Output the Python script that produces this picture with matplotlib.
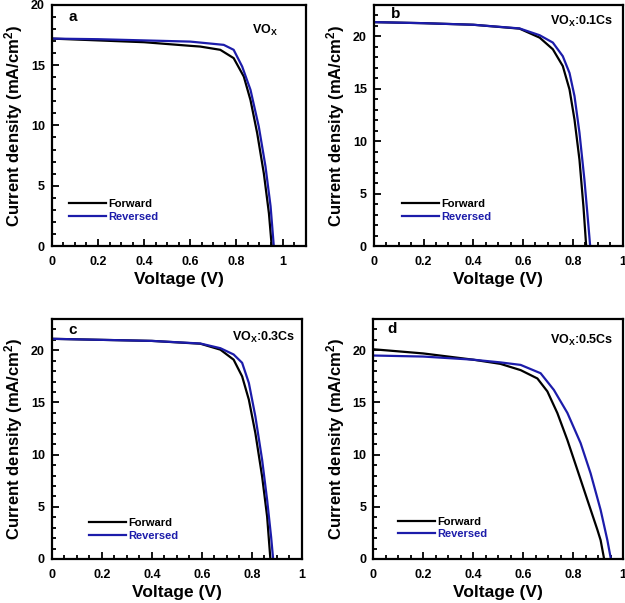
import matplotlib
matplotlib.use("Agg")
import matplotlib.pyplot as plt
from matplotlib.ticker import MultipleLocator, FuncFormatter

plt.rcParams['font.family'] = ['Liberation Sans', 'DejaVu Sans']
plt.rcParams['font.weight'] = 'bold'
plt.rcParams['mathtext.fontset'] = 'custom'
plt.rcParams['mathtext.rm'] = 'Liberation Sans:bold'
plt.rcParams['mathtext.bf'] = 'Liberation Sans:bold'
plt.rcParams['mathtext.it'] = 'Liberation Sans:bold'
plt.rcParams['mathtext.default'] = 'bf'

BLUE = '#1c1caa'

# ---- data (voltage V, current density mA/cm2) ----
a_fwd_v = [0, 0.2, 0.4, 0.6, 0.643, 0.73, 0.788, 0.832, 0.861, 0.89, 0.919, 0.941, 0.953]
a_fwd_j = [17.2, 17.05, 16.9, 16.6, 16.54, 16.27, 15.58, 14.05, 12.1, 9.36, 6.0, 2.7, 0]
a_rev_v = [0, 0.2, 0.4, 0.6, 0.643, 0.745, 0.788, 0.825, 0.861, 0.897, 0.926, 0.948, 0.962]
a_rev_j = [17.2, 17.15, 17.05, 16.95, 16.87, 16.68, 16.27, 14.88, 12.95, 9.9, 6.6, 3.3, 0]

b_fwd_v = [0, 0.2, 0.4, 0.586, 0.667, 0.72, 0.76, 0.787, 0.807, 0.827, 0.843, 0.854]
b_fwd_j = [21.35, 21.25, 21.1, 20.73, 19.87, 18.76, 17.16, 14.93, 12.06, 8.23, 3.76, 0]
b_rev_v = [0, 0.2, 0.4, 0.586, 0.667, 0.72, 0.76, 0.787, 0.807, 0.827, 0.847, 0.861, 0.87]
b_rev_j = [21.35, 21.25, 21.1, 20.75, 20.1, 19.4, 18.1, 16.5, 14.3, 10.8, 6.3, 2.5, 0]

c_fwd_v = [0, 0.2, 0.4, 0.594, 0.674, 0.727, 0.761, 0.788, 0.814, 0.841, 0.861, 0.874]
c_fwd_j = [21.1, 21.0, 20.9, 20.63, 20.06, 19.1, 17.5, 15.26, 12.06, 7.9, 4.06, 0]
c_rev_v = [0, 0.2, 0.4, 0.594, 0.674, 0.727, 0.761, 0.788, 0.814, 0.841, 0.861, 0.877, 0.885]
c_rev_j = [21.1, 21.0, 20.9, 20.65, 20.2, 19.6, 18.8, 16.86, 13.66, 9.5, 5.66, 2.1, 0]

d_fwd_v = [0, 0.1, 0.2, 0.3, 0.4, 0.509, 0.59, 0.657, 0.697, 0.737, 0.777, 0.817, 0.857, 0.897, 0.91, 0.924]
d_fwd_j = [20.1, 19.9, 19.7, 19.4, 19.1, 18.7, 18.1, 17.3, 16.06, 13.98, 11.4, 8.54, 5.66, 2.8, 1.8, 0]
d_rev_v = [0, 0.2, 0.4, 0.509, 0.59, 0.67, 0.723, 0.777, 0.83, 0.87, 0.91, 0.937, 0.951]
d_rev_j = [19.5, 19.4, 19.1, 18.84, 18.6, 17.8, 16.2, 14.0, 11.1, 8.2, 4.7, 1.8, 0]

panels = [
    # letter, sample, fwd, rev, xmax, ymax, axes rect, letter pos, sample pos, legend pos
    ('a', r'VO$_\mathbf{X}$', (a_fwd_v, a_fwd_j), (a_rev_v, a_rev_j), 1.1, 20,
     [0.083, 0.592, 0.406, 0.400], (0.065, 0.95), (0.79, 0.895), (0.03, 0.06)),
    ('b', r'VO$_\mathbf{X}$:0.1Cs', (b_fwd_v, b_fwd_j), (b_rev_v, b_rev_j), 1.0, 23,
     [0.598, 0.592, 0.398, 0.400], (0.07, 0.96), (0.71, 0.93), (0.075, 0.06)),
    ('c', r'VO$_\mathbf{X}$:0.3Cs', (c_fwd_v, c_fwd_j), (c_rev_v, c_rev_j), 1.0, 23,
     [0.083, 0.073, 0.400, 0.398], (0.065, 0.954), (0.72, 0.925), (0.11, 0.035)),
    ('d', r'VO$_\mathbf{X}$:0.5Cs', (d_fwd_v, d_fwd_j), (d_rev_v, d_rev_j), 1.0, 23,
     [0.597, 0.073, 0.400, 0.398], (0.056, 0.958), (0.708, 0.91), (0.06, 0.04)),
]

fig = plt.figure(figsize=(6.25, 6.03), dpi=100)

for letter, sample, fwd, rev, xmax, ymax, rect, lpos, spos, legpos in panels:
    ax = fig.add_axes(rect)
    ax.plot(fwd[0], fwd[1], color='black', lw=1.6, label='Forward')
    ax.plot(rev[0], rev[1], color=BLUE, lw=1.6, label='Reversed')
    ax.set_xlim(0, xmax)
    ax.set_ylim(0, ymax)
    ax.xaxis.set_major_locator(MultipleLocator(0.2))
    ax.xaxis.set_minor_locator(MultipleLocator(0.05))
    ax.yaxis.set_major_locator(MultipleLocator(5))
    ax.yaxis.set_minor_locator(MultipleLocator(1))
    ax.xaxis.set_major_formatter(FuncFormatter(lambda v, p: '%g' % round(v, 2)))
    ax.tick_params(which='both', direction='in', top=False, right=False,
                   labelsize=9, width=1.3)
    ax.tick_params(which='major', length=5)
    ax.tick_params(axis='x', which='major', pad=7)
    ax.tick_params(axis='y', which='major', pad=5)
    ax.tick_params(which='minor', length=3)
    for s in ax.spines.values():
        s.set_linewidth(1.6)
    ax.set_xlabel('Voltage (V)', fontsize=12.5, fontweight='bold', labelpad=3)
    ax.set_ylabel(r'Current density (mA/cm$^2$)', fontsize=12, fontweight='bold', labelpad=4)
    ax.text(lpos[0], lpos[1], letter, transform=ax.transAxes, fontsize=11,
            fontweight='bold', ha='left', va='center')
    ax.text(spos[0], spos[1], sample, transform=ax.transAxes, fontsize=9,
            fontweight='bold', ha='left', va='center')
    ax.legend(loc='lower left', bbox_to_anchor=legpos, frameon=False,
              handlelength=3.3, handletextpad=0.2, labelspacing=0.25,
              prop={'size': 8, 'weight': 'bold'}, labelcolor='linecolor')

fig.savefig('out.png', dpi=100)
